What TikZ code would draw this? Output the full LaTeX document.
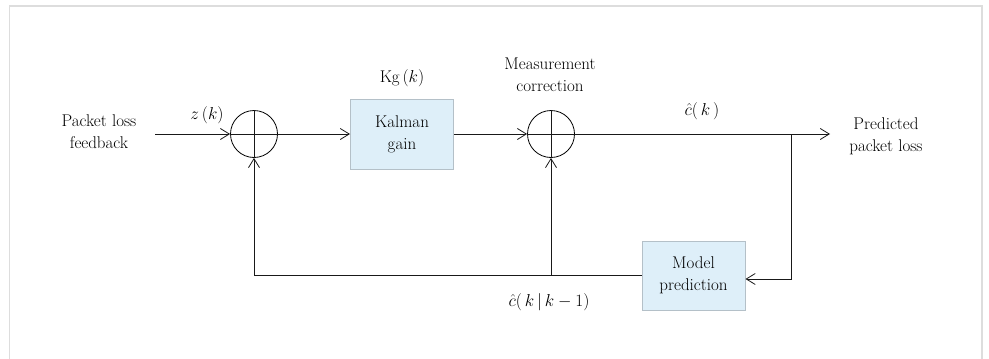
\documentclass[tikz,border=0pt]{standalone}
\usetikzlibrary{arrows.meta}
\definecolor{boxfill}{HTML}{DEEFF9}
\definecolor{boxline}{HTML}{B4C0C8}
\definecolor{framecol}{HTML}{DDDDDD}
\begin{document}
\begin{tikzpicture}[x=1pt,y=-1pt,
  font=\fontsize{17}{22}\selectfont,
  wire/.style={line width=0.8pt,black!90},
  arr/.style={wire,-{Straight Barb[length=9pt,width=11pt,line width=0.8pt]}},
  sumnode/.style={circle,draw,line width=0.8pt,minimum size=47pt,inner sep=0pt},
  block/.style={draw=boxline,fill=boxfill,line width=1pt,minimum width=103pt,minimum height=70pt,align=center,inner sep=0pt},
  lab/.style={align=center,inner sep=0pt}]
\useasboundingbox (0,0) rectangle (989,359);
\draw[framecol,line width=1.5pt] (9.5,380) -- (9.5,6) -- (982,6) -- (982,380);
% nodes
\node[lab] (in) at (99,132) {Packet loss\\feedback};
\node[sumnode] (s1) at (254,134) {};
\node[block] (kg) at (402,134) {Kalman\\gain};
\node[sumnode] (s2) at (551,134) {};
\node[lab] (out) at (886,136) {Predicted\\packet loss};
\node[block,minimum height=69pt] (mp) at (693.5,275.5) {Model\\prediction};
% labels
\node[lab] (zk) at (207,115) {$z\,(k)$};
\node[lab] (kgk) at (402,78) {Kg\,$(k)$};
\node[lab] (mc) at (550,75) {Measurement\\correction};
\node[lab] (ck) at (702,111) {$\hat{c}(\,k\,)$};
\node[lab] (ckk) at (549,302) {$\hat{c}\bigl(\,k\,\big|\,k-1\bigr)$};
% cross lines in sums
\draw[wire] (s1.north) -- (s1.south) (s1.west) -- (s1.east);
\draw[wire] (s2.north) -- (s2.south) (s2.west) -- (s2.east);
% coordinates
\coordinate (inst) at (155,134);
\coordinate (oe) at (830,134);
\coordinate (br) at (791,134);
\coordinate (brd) at (791,279);
\coordinate (fl) at (254,275);
\coordinate (fm) at (551,275);
% connectors
\draw[arr] (inst) -- (s1.west);
\draw[arr] (s1.east) -- (kg.west);
\draw[arr] (kg.east) -- (s2.west);
\draw[arr] (s2.east) -- (oe);
\draw[arr] (br) -- (brd) -- (mp.east |- brd);
\draw[wire] (mp.west |- fl) -- (fl);
\draw[arr] (fl) -- (s1.south);
\draw[arr] (fm) -- (s2.south);
\end{tikzpicture}
\end{document}
